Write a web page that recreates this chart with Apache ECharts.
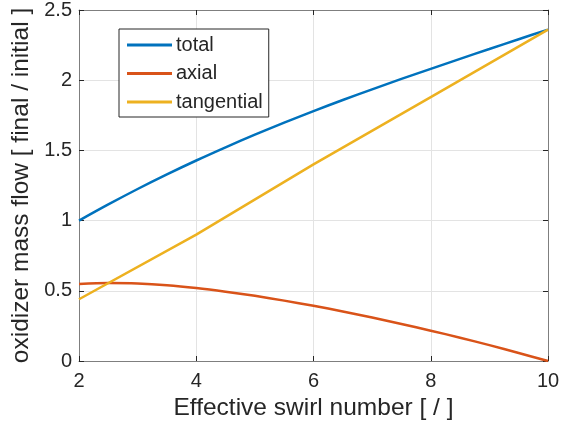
<!DOCTYPE html>
<html>
<head>
<meta charset="utf-8">
<script src="https://cdn.jsdelivr.net/npm/echarts@6/dist/echarts.min.js"></script>
<style>
  html, body { margin: 0; padding: 0; background: #fff; }
  #chart { width: 563px; height: 435px; }
</style>
</head>
<body>
<div id="chart"></div>
<script>
// Effective swirl number samples
const swirl = [2, 2.5, 3, 3.5, 4, 4.5, 5, 5.5, 6, 6.5, 7, 7.5, 8, 8.5, 9, 9.5, 10];
// Oxidizer mass flow ratios [final / initial]
const total = [1.00, 1.115, 1.225, 1.329, 1.428, 1.522, 1.612, 1.698, 1.780, 1.859, 1.935, 2.009, 2.081, 2.152, 2.222, 2.292, 2.36];
const axial = [0.548, 0.555, 0.552, 0.540, 0.520, 0.494, 0.464, 0.430, 0.393, 0.353, 0.310, 0.264, 0.216, 0.166, 0.113, 0.057, 0.0];
const tangentialSwirl = [2, 4, 6, 8, 10];
const tangential = [0.44, 0.90, 1.40, 1.88, 2.36];

const xTicks = [2, 4, 6, 8, 10];
const yTicks = [0, 0.5, 1, 1.5, 2, 2.5];

const pairs = (xs, ys) => xs.map((x, i) => [x, ys[i]]);

const textColor = '#262626';
const axisColor = '#7f7f7f';
const gridColor = '#e3e3e3';
const font = 'Liberation Sans, Arial, Helvetica, sans-serif';

const chart = echarts.init(document.getElementById('chart'), null, { renderer: 'canvas' });

const baseX = {
  type: 'value', min: 2, max: 10, interval: 2,
  axisLine: { show: true, onZero: false, lineStyle: { color: axisColor, width: 1 } },
  axisTick: { show: true, inside: true, length: 5, lineStyle: { color: textColor } },
  splitLine: { show: false }
};
const baseY = {
  type: 'value', min: 0, max: 2.5, interval: 0.5,
  axisLine: { show: true, onZero: false, lineStyle: { color: axisColor, width: 1 } },
  axisTick: { show: true, inside: true, length: 5, lineStyle: { color: textColor } },
  splitLine: { show: false }
};

chart.setOption({
  backgroundColor: '#ffffff',
  animation: false,
  textStyle: { fontFamily: font },
  grid: { left: 79, right: 15, top: 10, bottom: 74, containLabel: false },
  legend: {
    orient: 'vertical',
    left: 119, top: 29,
    padding: [6, 6, 5, 8],
    backgroundColor: '#ffffff',
    borderColor: textColor,
    borderWidth: 1,
    borderRadius: 0,
    icon: 'rect',
    itemWidth: 45, itemHeight: 3,
    itemGap: 8.5,
    textStyle: { color: textColor, fontSize: 20, lineHeight: 20, padding: [0, 0, 0, -1], fontFamily: font },
    data: ['total', 'axial', 'tangential']
  },
  xAxis: [
    Object.assign({}, baseX, {
      position: 'bottom',
      name: 'Effective swirl number [ / ]',
      nameLocation: 'middle', nameGap: 35,
      nameTextStyle: { color: textColor, fontSize: 24.5, fontFamily: font },
      axisLabel: {
        color: textColor, fontSize: 20, margin: 10, fontFamily: font,
        formatter: v => (xTicks.includes(v) ? String(v) : '')
      },
      splitLine: { show: true, lineStyle: { color: gridColor, width: 1 } }
    }),
    Object.assign({}, baseX, { position: 'top', axisLabel: { show: false } })
  ],
  yAxis: [
    Object.assign({}, baseY, {
      position: 'left',
      name: 'oxidizer mass flow [ final / initial ]',
      nameLocation: 'middle', nameGap: 41,
      nameTextStyle: { color: textColor, fontSize: 24.5, fontFamily: font },
      axisLabel: {
        color: textColor, fontSize: 20, margin: 7, fontFamily: font,
        formatter: v => (yTicks.includes(v) ? String(v) : '')
      },
      splitLine: { show: true, lineStyle: { color: gridColor, width: 1 } }
    }),
    Object.assign({}, baseY, { position: 'right', axisLabel: { show: false } })
  ],
  series: [
    {
      name: 'total', type: 'line', xAxisIndex: 0, yAxisIndex: 0,
      data: pairs(swirl, total), smooth: 0.3, symbol: 'none',
      lineStyle: { color: '#0072BD', width: 2.5 }, itemStyle: { color: '#0072BD' }, z: 3
    },
    {
      name: 'axial', type: 'line', xAxisIndex: 0, yAxisIndex: 0,
      data: pairs(swirl, axial), smooth: 0.3, symbol: 'none',
      lineStyle: { color: '#D95319', width: 2.5 }, itemStyle: { color: '#D95319' }, z: 3
    },
    {
      name: 'tangential', type: 'line', xAxisIndex: 0, yAxisIndex: 0,
      data: pairs(tangentialSwirl, tangential), symbol: 'none',
      lineStyle: { color: '#EDB120', width: 2.5 }, itemStyle: { color: '#EDB120' }, z: 3
    }
  ]
});
</script>
</body>
</html>
